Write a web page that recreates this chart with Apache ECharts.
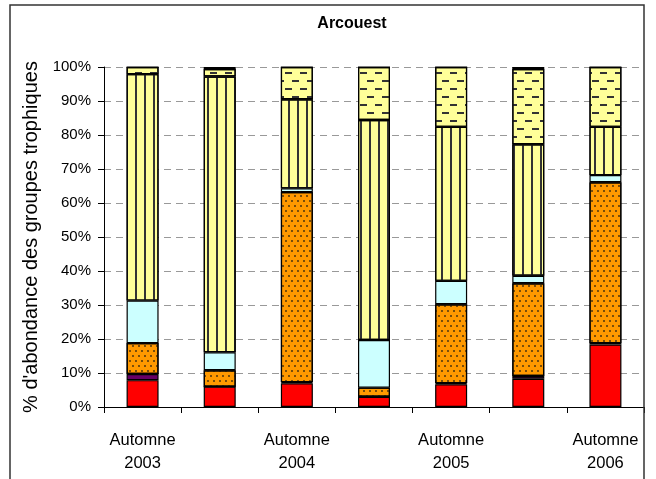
<!DOCTYPE html>
<html><head><meta charset="utf-8">
<script src="https://cdn.jsdelivr.net/npm/echarts@6/dist/echarts.min.js"></script>
<style>html,body{margin:0;padding:0;background:#fff}#c{width:656px;height:479px}</style>
</head><body><div id="c"></div>
<script>
const categories = ['Automne\n2003', '', 'Automne\n2004', '', 'Automne\n2005', '', 'Automne\n2006'];
const yTicks = ['0%','10%','20%','30%','40%','50%','60%','70%','80%','90%','100%'];
const redVals    = [7.9, 6.0, 7.0, 3.0, 6.7, 8.3, 18.4];
const purpleVals = [1.8, 0, 0.3, 0, 0.3, 0.8, 0.4];
const orangeVals = [9.1, 4.8, 55.9, 2.7, 23.2, 27.3, 47.3];
const cyanVals   = [12.5, 5.3, 1.1, 14.0, 6.9, 2.2, 2.1];
const stripeVals = [66.6, 81.1, 26.2, 64.7, 45.3, 38.7, 14.2];
const dashVals   = [2.1, 2.2, 9.5, 15.6, 17.6, 22.1, 17.6];
const blackVals  = [0, 0.6, 0, 0, 0, 0.6, 0];

const chart = echarts.init(document.getElementById('c'), null, {renderer: 'canvas'});
function mk(name, data, color, decal) {
  const s = {
    name, type: 'bar', stack: 'all', data, barWidth: 32,
    itemStyle: {color, borderColor: '#000', borderWidth: 1.2}
  };
  if (decal) s.itemStyle.decal = decal;
  return s;
}
const font = 'Liberation Sans, Arial, sans-serif';
chart.setOption({
  animation: false,
  title: {text: 'Arcouest', left: 347, top: 11, textAlign: 'center',
    textStyle: {fontFamily: font, fontSize: 16, fontWeight: 'bold', color: '#000'}},
  grid: {left: 104, right: 12, top: 67, bottom: 72},
  xAxis: {
    type: 'category', data: categories, boundaryGap: true,
    axisLine: {lineStyle: {color: '#000', width: 1}},
    axisTick: {show: true, length: 6, alignWithLabel: false, interval: 0, lineStyle: {color: '#000'}},
    axisLabel: {interval: 0, margin: 22, fontFamily: font, fontSize: 16.5, color: '#000', lineHeight: 23}
  },
  yAxis: {
    type: 'value', min: 0, max: 100, interval: 10,
    name: "% d'abondance des groupes trophiques", nameLocation: 'middle', nameGap: 63,
    nameTextStyle: {fontFamily: font, fontSize: 20, color: '#000'},
    axisLine: {show: true, lineStyle: {color: '#000', width: 1}},
    axisTick: {show: true, length: 6, lineStyle: {color: '#000'}},
    axisLabel: {margin: 13, fontFamily: font, fontSize: 15, color: '#000',
      formatter: v => yTicks[Math.round(v / 10)]},
    splitLine: {show: true, lineStyle: {color: '#999', type: [7, 5], width: 1}}
  },
  graphic: [{type: 'rect', shape: {x: 10, y: 5, width: 634, height: 490},
    style: {fill: 'none', stroke: '#333', lineWidth: 1.5}, silent: true, z: 100}],
  series: [
    mk('A', redVals, '#FF0000'),
    mk('B', purpleVals, '#660066'),
    mk('C', orangeVals, '#FF9900', {symbol: 'circle', symbolSize: 0.9, color: '#3a2a10',
      dashArrayX: [[2, 4], [0, 3, 2, 1]], dashArrayY: [2, 3]}),
    mk('D', cyanVals, '#CCFFFF'),
    mk('E', stripeVals, '#FFFF99', {symbol: 'rect', symbolSize: 1, color: '#333',
      dashArrayX: [2, 6.5], dashArrayY: [10, 0]}),
    mk('F', dashVals, '#FFFF99', {symbol: 'rect', symbolSize: 1, color: '#333',
      dashArrayX: [[7, 8], [0, 7, 7, 1]], dashArrayY: [2, 5.5]}),
    mk('G', blackVals, '#000000')
  ]
});
</script></body></html>
